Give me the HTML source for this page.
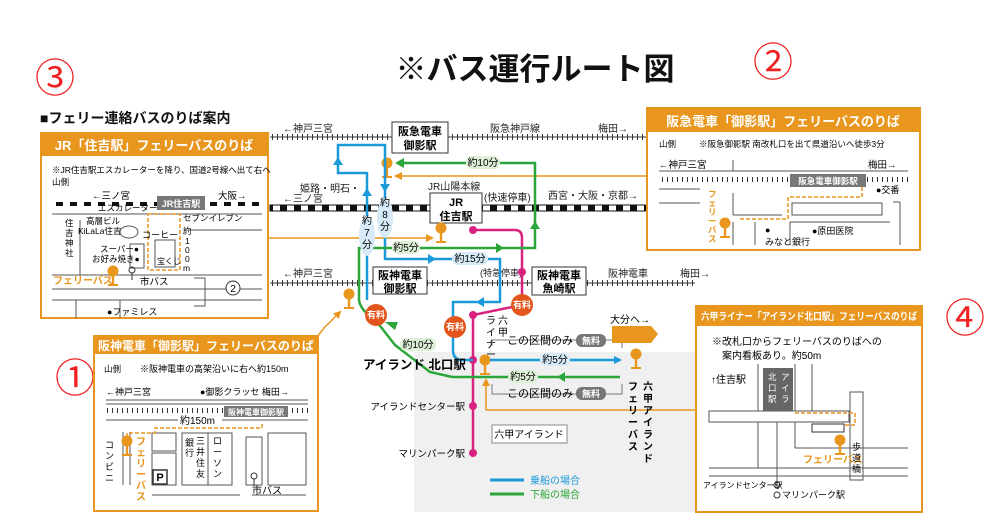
<!DOCTYPE html>
<html><head><meta charset="utf-8"><style>
html,body{margin:0;padding:0;background:#fff;}
svg{display:block;font-family:"Liberation Sans","Noto Sans CJK JP",sans-serif;}
</style></head><body>
<svg width="1006" height="530" viewBox="0 0 1006 530" xmlns="http://www.w3.org/2000/svg">
<defs>
<marker id="ab" markerWidth="8" markerHeight="8" refX="6" refY="4" orient="auto" markerUnits="userSpaceOnUse"><path d="M0,0 L8,4 L0,8z" fill="#1a9ad8"/></marker>
<marker id="ag" markerWidth="8" markerHeight="8" refX="6" refY="4" orient="auto" markerUnits="userSpaceOnUse"><path d="M0,0 L8,4 L0,8z" fill="#2aa63a"/></marker>
<marker id="ao" markerWidth="8" markerHeight="8" refX="6" refY="4" orient="auto" markerUnits="userSpaceOnUse"><path d="M0,0 L8,4 L0,8z" fill="#e8961e"/></marker>
<pattern id="tick" width="5" height="6" patternUnits="userSpaceOnUse"><rect x="2" y="0" width="1" height="6" fill="#333"/></pattern>
<pattern id="jr" width="14" height="6" patternUnits="userSpaceOnUse"><rect width="7" height="6" fill="#111"/><rect x="7" width="7" height="6" fill="#fff"/></pattern>
<g id="stop"><circle cx="0" cy="-6" r="5.5" fill="#e8961e"/><rect x="-1.2" y="-1" width="2.4" height="9" fill="#e8961e"/><rect x="-5" y="7" width="10" height="2" fill="#e8961e"/></g>
</defs>

<rect x="414" y="352" width="281" height="160" fill="#f0f0f0"/>

<text x="535" y="80" font-size="31" text-anchor="middle" fill="#111" font-weight="bold">※バス運行ルート図</text>
<text x="55" y="92" font-size="40" fill="#e22" text-anchor="middle">③</text>
<text x="773" y="76" font-size="40" fill="#e22" text-anchor="middle">②</text>
<text x="75" y="392" font-size="40" fill="#e22" text-anchor="middle">①</text>
<text x="965" y="332" font-size="40" fill="#e22" text-anchor="middle">④</text>
<text x="40" y="123" font-size="14" font-weight="bold" fill="#111">■フェリー連絡バスのりば案内</text>

<line x1="270" y1="137" x2="650" y2="137" stroke="#333" stroke-width="1"/>
<rect x="270" y="134" width="380" height="6" fill="url(#tick)"/>
<text x="283" y="132" font-size="10" fill="#222">←神戸三宮</text>
<text x="490" y="132" font-size="10" fill="#222">阪急神戸線</text>
<text x="598" y="132" font-size="10" fill="#222">梅田→</text>
<rect x="392" y="122" width="56" height="31" fill="#fff" stroke="#333"/>
<text x="420" y="135" font-size="11" font-weight="bold" text-anchor="middle">阪急電車</text>
<text x="420" y="149" font-size="11" font-weight="bold" text-anchor="middle">御影駅</text>

<rect x="270" y="205" width="380" height="6" fill="url(#jr)" stroke="#111" stroke-width="1"/>
<text x="300" y="192" font-size="10" fill="#222">姫路・明石・</text>
<text x="283" y="202" font-size="10" fill="#222">←三ノ宮</text>
<text x="428" y="190" font-size="10" fill="#222">JR山陽本線</text>
<text x="484" y="201" font-size="10" fill="#222">(快速停車)</text>
<text x="548" y="199" font-size="10" fill="#222">西宮・大阪・京都→</text>
<rect x="430" y="193" width="52" height="30" fill="#fff" stroke="#333"/>
<text x="456" y="206" font-size="11" font-weight="bold" text-anchor="middle">JR</text>
<text x="456" y="220" font-size="11" font-weight="bold" text-anchor="middle">住吉駅</text>

<line x1="270" y1="283" x2="695" y2="283" stroke="#333"/>
<rect x="270" y="280" width="425" height="6" fill="url(#tick)"/>
<text x="283" y="277" font-size="10" fill="#222">←神戸三宮</text>
<text x="608" y="277" font-size="10" fill="#222">阪神電車</text>
<text x="680" y="277" font-size="10" fill="#222">梅田→</text>
<rect x="373" y="267" width="54" height="27" fill="#fff" stroke="#333"/>
<text x="400" y="279" font-size="11" font-weight="bold" text-anchor="middle">阪神電車</text>
<text x="400" y="292" font-size="11" font-weight="bold" text-anchor="middle">御影駅</text>
<rect x="532" y="267" width="54" height="28" fill="#fff" stroke="#333"/>
<text x="559" y="279" font-size="11" font-weight="bold" text-anchor="middle">阪神電車</text>
<text x="559" y="292" font-size="11" font-weight="bold" text-anchor="middle">魚崎駅</text>
<text x="480" y="276" font-size="9" fill="#222">(特急停車)</text>

<line x1="650" y1="176" x2="396" y2="176" stroke="#e8961e" stroke-width="1.5" marker-end="url(#ao)"/>
<use href="#stop" x="387" y="169"/>
<line x1="268" y1="238" x2="432" y2="238" stroke="#e8961e" stroke-width="1.5" marker-end="url(#ao)"/>
<use href="#stop" x="441" y="234"/>
<use href="#stop" x="349" y="300"/>
<polyline points="317,337 324,328 340,312" fill="none" stroke="#e8961e" stroke-width="1.5" marker-end="url(#ao)"/>
<polyline points="695,410 486,410 486,380" fill="none" stroke="#e8961e" stroke-width="1.5" marker-end="url(#ao)"/>
<use href="#stop" x="485" y="366"/>
<use href="#stop" x="636" y="360"/>

<path d="M473,230 H515 Q522,230 522,238 V305 L473,315 V450" fill="none" stroke="#d9217f" stroke-width="2.5"/>
<circle cx="473" cy="230" r="4" fill="#d9217f"/>
<circle cx="522" cy="272" r="4" fill="#d9217f"/>
<circle cx="473" cy="315" r="4" fill="#d9217f"/>
<circle cx="473" cy="360" r="4" fill="#d9217f"/>
<circle cx="473" cy="406" r="4" fill="#d9217f"/>
<circle cx="473" cy="453" r="4" fill="#d9217f"/>

<path d="M367,300 V173 H338 V145 H385 V259 H500 V302 H453 V350 Q453,360 463,360 H473" fill="none" stroke="#1a9ad8" stroke-width="2.5"/>
<path d="M362,196 L367,188 L372,196z M333,165 L338,157 L343,165z M380,184 L385,192 L390,184z M428,254 L436,259 L428,264z M484,297 L476,302 L484,307z" fill="#1a9ad8"/>
<line x1="490" y1="360" x2="620" y2="360" stroke="#1a9ad8" stroke-width="2.5" marker-end="url(#ab)"/>

<path d="M620,377 H452 L430,372 L395,345 L377,322 Q360,310 359,300 V248 H535 V163 H398" fill="none" stroke="#2aa63a" stroke-width="2.5"/>
<path d="M496,243 L504,248 L496,253z M530,229 L535,221 L540,229z M404,158 L395,163 L404,168z M565,372 L557,377 L565,382z M395,330 L385,322 L398,322z" fill="#2aa63a"/>

<ellipse cx="367" cy="236" rx="8" ry="20" fill="#d6eaf8"/>
<text x="367" y="224" font-size="10" text-anchor="middle">約</text><text x="367" y="236" font-size="10" text-anchor="middle">7</text><text x="367" y="248" font-size="10" text-anchor="middle">分</text>
<ellipse cx="385" cy="218" rx="8" ry="20" fill="#d6eaf8"/>
<text x="385" y="206" font-size="10" text-anchor="middle">約</text><text x="385" y="218" font-size="10" text-anchor="middle">8</text><text x="385" y="230" font-size="10" text-anchor="middle">分</text>
<rect x="466" y="156" width="34" height="13" rx="6" fill="#dff0d8"/><text x="483" y="166" font-size="10" text-anchor="middle">約10分</text>
<rect x="392" y="241" width="28" height="13" rx="6" fill="#dff0d8"/><text x="406" y="251" font-size="10" text-anchor="middle">約5分</text>
<rect x="452" y="252" width="36" height="13" rx="6" fill="#d6eaf8"/><text x="470" y="262" font-size="10" text-anchor="middle">約15分</text>
<rect x="400" y="338" width="36" height="13" rx="6" fill="#dff0d8"/><text x="418" y="348" font-size="10" text-anchor="middle">約10分</text>
<rect x="540" y="353" width="30" height="13" rx="6" fill="#d6eaf8"/><text x="555" y="363" font-size="10" text-anchor="middle">約5分</text>
<rect x="508" y="370" width="30" height="13" rx="6" fill="#dff0d8"/><text x="523" y="380" font-size="10" text-anchor="middle">約5分</text>

<g font-size="9" font-weight="bold" fill="#fff" text-anchor="middle">
<circle cx="376" cy="315" r="11" fill="#e2561e"/><text x="376" y="318">有料</text>
<circle cx="522" cy="305" r="11" fill="#e2561e"/><text x="522" y="308">有料</text>
<circle cx="455" cy="327" r="11" fill="#e2561e"/><text x="455" y="330">有料</text>
</g>

<text x="498" y="324" font-size="10">六</text><text x="498" y="336" font-size="10">甲</text>
<text x="486" y="324" font-size="10">ラ</text><text x="486" y="336" font-size="10">イ</text><text x="486" y="348" font-size="10">ナ</text><text x="486" y="358" font-size="10">ー</text>
<polyline points="492,346 492,340 622,340 622,348" fill="none" stroke="#777"/>
<polyline points="492,384 492,394 622,394 622,384" fill="none" stroke="#777"/>
<text x="507" y="344" font-size="11">この区間のみ</text>
<rect x="576" y="334" width="30" height="13" rx="6" fill="#777"/><text x="591" y="344" font-size="9" fill="#fff" text-anchor="middle" font-weight="bold">無料</text>
<text x="507" y="397" font-size="11">この区間のみ</text>
<rect x="576" y="387" width="30" height="13" rx="6" fill="#777"/><text x="591" y="397" font-size="9" fill="#fff" text-anchor="middle" font-weight="bold">無料</text>
<text x="610" y="323" font-size="10">大分へ→</text>
<path d="M612,326 H651 L658,334 L651,343 H612z" fill="#e8961e"/>
<text x="363" y="369" font-size="12.5" font-weight="bold">アイランド 北口駅</text>
<text x="465" y="410" font-size="9.5" text-anchor="end">アイランドセンター駅</text>
<text x="465" y="457" font-size="9.5" text-anchor="end">マリンパーク駅</text>
<rect x="492" y="425" width="75" height="18" fill="#fff" stroke="#888"/>
<text x="529" y="438" font-size="10" text-anchor="middle">六甲アイランド</text>
<g font-size="10" font-weight="bold">
<text x="643" y="390">六</text><text x="643" y="402">甲</text><text x="643" y="414">ア</text><text x="643" y="426">イ</text><text x="643" y="438">ラ</text><text x="643" y="450">ン</text><text x="643" y="462">ド</text>
<text x="628" y="390">フ</text><text x="628" y="402">ェ</text><text x="628" y="414">リ</text><text x="628" y="426">ー</text><text x="628" y="438">バ</text><text x="628" y="450">ス</text>
</g>
<line x1="490" y1="480" x2="524" y2="480" stroke="#1a9ad8" stroke-width="3"/><text x="530" y="484" font-size="10" fill="#1a9ad8">乗船の場合</text>
<line x1="490" y1="494" x2="524" y2="494" stroke="#2aa63a" stroke-width="3"/><text x="530" y="498" font-size="10" fill="#2aa63a">下船の場合</text>

<!-- Box 3 -->
<rect x="41" y="133" width="227" height="185" fill="#fff" stroke="#e8961e" stroke-width="2"/>
<rect x="41" y="133" width="227" height="23" fill="#e8961e"/>
<text x="154" y="150" font-size="13" font-weight="bold" fill="#fff" text-anchor="middle">JR「住吉駅」フェリーバスのりば</text>
<text x="52" y="173" font-size="8.5">※JR住吉駅エスカレーターを降り、国道2号線へ出て右へ</text>
<text x="52" y="185" font-size="8.5">山側</text>
<text x="92" y="199" font-size="9.5">←三ノ宮</text><text x="218" y="199" font-size="9.5">大阪→</text>
<rect x="52" y="202" width="210" height="4" fill="url(#jr)"/>
<rect x="157" y="196" width="48" height="14" fill="#777"/><text x="181" y="207" font-size="9" fill="#fff" text-anchor="middle" font-weight="bold">JR住吉駅</text>
<g stroke="#555" fill="none" stroke-width="1">
<line x1="52" y1="214" x2="262" y2="214"/><line x1="52" y1="275" x2="262" y2="275"/><line x1="52" y1="289" x2="262" y2="289"/><line x1="52" y1="300" x2="262" y2="300"/>
<line x1="80" y1="220" x2="80" y2="275"/><line x1="120" y1="300" x2="120" y2="318"/><line x1="76" y1="300" x2="76" y2="318"/>
<rect x="155" y="240" width="20" height="27"/><rect x="130" y="244" width="14" height="24"/>
<ellipse cx="129" cy="232" rx="9" ry="6"/>
<line x1="188" y1="230" x2="262" y2="230"/><polyline points="194,278 205,278 205,306 194,306"/>
</g>
<rect x="148" y="214" width="32" height="56" fill="none" stroke="#e8961e" stroke-dasharray="4,2" stroke-width="1.5"/>
<text x="98" y="211" font-size="8.5">エスカレーター</text>
<text x="183" y="221" font-size="8.5">セブンイレブン</text>
<text x="86" y="224" font-size="8.5">高層ビル</text>
<text x="78" y="234" font-size="8.5">KiLaLa住吉</text>
<text x="142" y="238" font-size="9">コーヒー</text>
<text x="100" y="252" font-size="8.5">スーパー●</text>
<text x="92" y="262" font-size="8.5">お好み焼き●</text>
<text x="157" y="264" font-size="8">宝くじ</text>
<g font-size="8.5"><text x="65" y="226">住</text><text x="65" y="236">吉</text><text x="65" y="246">神</text><text x="65" y="256">社</text>
<text x="183" y="234">約</text><text x="185" y="244">1</text><text x="185" y="253">0</text><text x="185" y="262">0</text><text x="183" y="271">m</text></g>
<text x="53" y="284" font-size="10" font-weight="bold" fill="#e8961e">フェリーバス</text>
<use href="#stop" x="113" y="277"/>
<circle cx="132" cy="270" r="3" fill="none" stroke="#333"/><line x1="132" y1="273" x2="132" y2="280" stroke="#333"/>
<text x="140" y="285" font-size="9.5">市バス</text>
<circle cx="233" cy="288" r="7" fill="#fff" stroke="#333"/><text x="233" y="292" font-size="10" text-anchor="middle">2</text>
<text x="107" y="315" font-size="9">●ファミレス</text>

<!-- Box 2 -->
<rect x="647" y="108" width="273" height="142" fill="#fff" stroke="#e8961e" stroke-width="2"/>
<rect x="647" y="108" width="273" height="24" fill="#e8961e"/>
<text x="783" y="126" font-size="13" font-weight="bold" fill="#fff" text-anchor="middle">阪急電車「御影駅」フェリーバスのりば</text>
<text x="659" y="147" font-size="8.5">山側</text>
<text x="699" y="147" font-size="8.5">※阪急御影駅 南改札口を出て県道沿いへ徒歩3分</text>
<text x="659" y="168" font-size="9.5">←神戸三宮</text><text x="868" y="168" font-size="9.5">梅田→</text>
<g stroke="#555" fill="none">
<line x1="659" y1="171" x2="908" y2="171"/><line x1="733" y1="160" x2="733" y2="171"/>
<line x1="659" y1="189" x2="700" y2="189"/><line x1="659" y1="203" x2="700" y2="203"/>
<line x1="733" y1="193" x2="733" y2="215"/><line x1="733" y1="215" x2="782" y2="215"/>
<rect x="792" y="203" width="90" height="12"/><line x1="900" y1="202" x2="900" y2="245"/><line x1="893" y1="202" x2="900" y2="202"/>
<line x1="733" y1="222" x2="733" y2="245"/><line x1="755" y1="222" x2="755" y2="245"/><line x1="790" y1="222" x2="790" y2="245"/><line x1="790" y1="222" x2="890" y2="222"/>
</g>
<rect x="659" y="177" width="249" height="5" fill="url(#tick)"/>
<rect x="790" y="174" width="76" height="13" fill="#777"/><text x="828" y="184" font-size="8.5" fill="#fff" text-anchor="middle" font-weight="bold">阪急電車御影駅</text>
<polyline points="862,187 862,197 788,197 788,219 738,219" fill="none" stroke="#e8961e" stroke-dasharray="4,2" stroke-width="1.5"/>
<text x="876" y="193" font-size="9">●交番</text>
<g font-size="8.5" font-weight="bold" fill="#e8961e"><text x="708" y="197">フ</text><text x="708" y="206">ェ</text><text x="708" y="215">リ</text><text x="708" y="224">ー</text><text x="708" y="233">バ</text><text x="708" y="242">ス</text></g>
<use href="#stop" x="725" y="229"/>
<text x="765" y="233" font-size="9">●</text><text x="765" y="245" font-size="9">みなと銀行</text>
<text x="812" y="234" font-size="9">●原田医院</text>

<!-- Box 1 -->
<rect x="94" y="336" width="224" height="175" fill="#fff" stroke="#e8961e" stroke-width="2"/>
<rect x="94" y="336" width="224" height="18" fill="#e8961e"/>
<text x="206" y="350" font-size="12" font-weight="bold" fill="#fff" text-anchor="middle">阪神電車「御影駅」フェリーバスのりば</text>
<text x="104" y="372" font-size="8.5">山側</text>
<text x="140" y="372" font-size="9">※阪神電車の高架沿いに右へ約150m</text>
<text x="106" y="395" font-size="9">←神戸三宮</text><text x="200" y="395" font-size="9">●御影クラッセ 梅田→</text>
<g stroke="#555" fill="none">
<line x1="106" y1="400" x2="308" y2="400"/><line x1="106" y1="404" x2="308" y2="404"/>
<line x1="106" y1="420" x2="178" y2="420"/><line x1="222" y1="420" x2="308" y2="420"/>
<line x1="123" y1="432" x2="123" y2="485"/><line x1="130" y1="432" x2="130" y2="485"/>
<rect x="152" y="433" width="24" height="18"/><rect x="152" y="453" width="24" height="32"/>
<rect x="182" y="433" width="50" height="52"/><rect x="246" y="437" width="16" height="48"/><rect x="268" y="433" width="38" height="52"/>
<line x1="208" y1="433" x2="208" y2="485"/>
<line x1="152" y1="495" x2="240" y2="495"/><line x1="252" y1="495" x2="306" y2="495"/>
</g>
<rect x="106" y="408" width="202" height="5" fill="url(#tick)"/>
<rect x="224" y="406" width="64" height="11" fill="#777"/><text x="256" y="415" font-size="8" fill="#fff" text-anchor="middle" font-weight="bold">阪神電車御影駅</text>
<text x="180" y="424" font-size="10">約150m</text>
<polyline points="262,424 262,428 155,428 155,433 127,433 127,440" fill="none" stroke="#e8961e" stroke-dasharray="4,2" stroke-width="1.5"/>
<use href="#stop" x="127" y="447"/>
<g font-size="10" font-weight="bold" fill="#e8961e"><text x="136" y="445">フ</text><text x="136" y="456">ェ</text><text x="136" y="467">リ</text><text x="136" y="478">ー</text><text x="136" y="489">バ</text><text x="136" y="500">ス</text></g>
<g font-size="9"><text x="105" y="448">コ</text><text x="105" y="459">ン</text><text x="105" y="470">ビ</text><text x="105" y="481">ニ</text>
<text x="185" y="446">銀</text><text x="185" y="456">行</text><text x="196" y="444">三</text><text x="196" y="455">井</text><text x="196" y="466">住</text><text x="196" y="477">友</text>
<text x="213" y="444">ロ</text><text x="213" y="455">ー</text><text x="213" y="466">ソ</text><text x="213" y="477">ン</text></g>
<rect x="153" y="470" width="14" height="14" fill="#fff" stroke="#333" stroke-width="1.5"/><text x="160" y="481" font-size="11" font-weight="bold" text-anchor="middle">P</text>
<circle cx="254" cy="476" r="3" fill="none" stroke="#333"/><line x1="254" y1="479" x2="254" y2="486" stroke="#333"/>
<text x="252" y="494" font-size="10">市バス</text>

<!-- Box 4 -->
<rect x="696" y="306" width="226" height="206" fill="#fff" stroke="#e8961e" stroke-width="2"/>
<rect x="696" y="306" width="226" height="20" fill="#e8961e"/>
<text x="701" y="320" font-size="10" font-weight="bold" fill="#fff" textLength="216" lengthAdjust="spacingAndGlyphs">六甲ライナー「アイランド北口駅」フェリーバスのりば</text>
<text x="712" y="345" font-size="10">※改札口からフェリーバスのりばへの</text>
<text x="722" y="359" font-size="10">案内看板あり。約50m</text>
<text x="711" y="383" font-size="10">↑住吉駅</text>
<g stroke="#555" fill="none">
<rect x="709" y="411" width="140" height="11"/>
<line x1="758" y1="364" x2="758" y2="411"/><line x1="758" y1="422" x2="758" y2="468"/>
<line x1="795" y1="364" x2="795" y2="411"/><line x1="812" y1="364" x2="812" y2="411"/>
<line x1="795" y1="422" x2="795" y2="448"/><line x1="795" y1="448" x2="908" y2="448"/>
<line x1="709" y1="468" x2="908" y2="468"/><line x1="709" y1="476" x2="908" y2="476"/>
<rect x="850" y="392" width="13" height="88"/>
<line x1="777" y1="422" x2="777" y2="484"/>
</g>
<rect x="763" y="368" width="30" height="43" fill="#666"/>
<text x="768" y="380" font-size="8.5" fill="#fff">北</text><text x="768" y="391" font-size="8.5" fill="#fff">口</text><text x="768" y="402" font-size="8.5" fill="#fff">駅</text>
<text x="781" y="380" font-size="8.5" fill="#fff">ア</text><text x="781" y="391" font-size="8.5" fill="#fff">イ</text><text x="781" y="402" font-size="8.5" fill="#fff">ラ</text>
<rect x="812" y="424" width="32" height="8" fill="none" stroke="#333"/>
<polyline points="795,413 855,413 855,425 845,425 M812,432 805,432 805,446 838,446" fill="none" stroke="#e8961e" stroke-dasharray="4,2" stroke-width="1.5"/>
<use href="#stop" x="840" y="446"/>
<text x="803" y="463" font-size="10" font-weight="bold" fill="#e8961e">フェリーバス</text>
<g font-size="9"><text x="852" y="450">歩</text><text x="852" y="461">道</text><text x="852" y="472">橋</text></g>
<circle cx="777" cy="485" r="3" fill="#fff" stroke="#333"/><circle cx="777" cy="495" r="3" fill="#fff" stroke="#333"/>
<text x="703" y="488" font-size="8">アイランドセンター駅</text>
<text x="782" y="498" font-size="9">マリンパーク駅</text>
</svg>
</body></html>
